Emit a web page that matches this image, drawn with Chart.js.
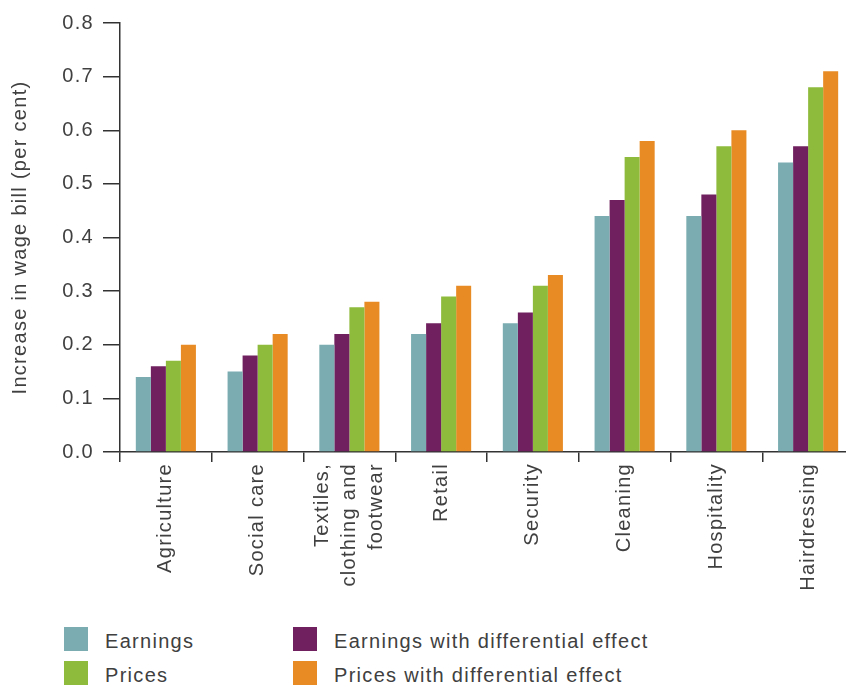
<!DOCTYPE html>
<html>
<head>
<meta charset="utf-8">
<script src="https://cdn.jsdelivr.net/npm/chart.js@4"></script>
<style>
  html, body { margin:0; padding:0; background:#fff; overflow:hidden; }
  body { width:846px; height:691px; position:relative; font-family:"Liberation Sans", Arial, sans-serif; }
  #wrap { position:absolute; left:0; top:0; width:854px; height:615px; }
  .item { position:absolute; height:24px; display:flex; align-items:center; color:#404040; font-size:20px; letter-spacing:1.3px; white-space:nowrap; }
  .item .box { width:24px; height:24px; margin-right:17px; }
  .item .txt { position:relative; top:2px; }
</style>
</head>
<body>
<div id="wrap"><canvas id="chart"></canvas></div>
<div id="legend"></div>
<script>
const categories = ["Agriculture", "Social care", ["Textiles,", "clothing and", "footwear"], "Retail", "Security", "Cleaning", "Hospitality", "Hairdressing"];
const seriesNames = ["Earnings", "Earnings with differential effect", "Prices", "Prices with differential effect"];
const seriesColors = ["#7aacb1", "#71205f", "#8ebb3b", "#e88b25"];
const earnings    = [0.14, 0.15, 0.20, 0.22, 0.24, 0.44, 0.44, 0.54];
const earningsDiff = [0.16, 0.18, 0.22, 0.24, 0.26, 0.47, 0.48, 0.57];
const prices      = [0.17, 0.20, 0.27, 0.29, 0.31, 0.55, 0.57, 0.68];
const pricesDiff  = [0.20, 0.22, 0.28, 0.31, 0.33, 0.58, 0.60, 0.71];
const yTicks = [0, 0.1, 0.2, 0.3, 0.4, 0.5, 0.6, 0.7, 0.8];

const values = [earnings, earningsDiff, prices, pricesDiff];
const textColor = "#404040";
const font = { family: "'Liberation Sans', Arial, sans-serif", size: 20, lineHeight: 1.35 };

// letter spacing for canvas text (context state is reset on resize)
const spacing = {
  id: "spacing",
  beforeLayout(c){ c.ctx.letterSpacing = "1.3px"; },
  beforeDraw(c){
    c.ctx.letterSpacing = "1.3px";
    // centre multi-line rotated labels on their tick
    const xs = c.scales.x;
    xs.getLabelItems().forEach(it => {
      if (Array.isArray(it.label) && !it._centred) {
        const lh = it.font.lineHeight;
        it.textOffset -= (it.label.length - 1) * lh / 2;
        it._centred = true;
      }
    });
  }
};

new Chart(document.getElementById("chart"), {
  type: "bar",
  data: {
    labels: categories,
    datasets: values.map((v, i) => ({
      label: seriesNames[i],
      data: v,
      backgroundColor: seriesColors[i],
      borderWidth: 0,
      categoryPercentage: 0.655,
      barPercentage: 1.0
    }))
  },
  options: {
    responsive: true,
    maintainAspectRatio: false,
    animation: false,
    layout: { padding: { top: 23, left: 0, right: 0, bottom: 0 } },
    plugins: { legend: { display: false }, tooltip: { enabled: false } },
    scales: {
      x: {
        grid: { drawOnChartArea: false, offset: true, tickLength: 10, color: "#333", lineWidth: 1.5 },
        border: { color: "#333", width: 1.5 },
        ticks: { color: textColor, font: font, minRotation: 90, maxRotation: 90, padding: 1, autoSkip: false },
        afterFit(s){ s.height = 163; }
      },
      y: {
        min: 0, max: 0.8,
        grid: { drawOnChartArea: false, tickLength: 17, color: "#333", lineWidth: 1.5 },
        border: { color: "#333", width: 1.5 },
        ticks: {
          color: textColor, font: font, padding: 9,
          stepSize: 0.1,
          callback: (v) => yTicks.some(t => Math.abs(t - v) < 1e-9) ? Number(v).toFixed(1) : ""
        },
        title: { display: true, text: "Increase in wage bill (per cent)", color: textColor, font: { family: font.family, size: 20 }, padding: { top: 8, bottom: 0 } },
        afterFit(s){ s.width = 120; }
      }
    }
  },
  plugins: [spacing]
});

// legend in two columns: Earnings / Prices left, differential effect right
const legendPos = [[64, 627], [293, 627], [64, 661], [293, 661]];
const legend = document.getElementById("legend");
seriesNames.forEach((name, i) => {
  const d = document.createElement("div");
  d.className = "item";
  d.style.left = legendPos[i][0] + "px";
  d.style.top = legendPos[i][1] + "px";
  d.innerHTML = '<span class="box" style="background:' + seriesColors[i] + '"></span><span class="txt">' + name + '</span>';
  legend.appendChild(d);
});
</script>
</body>
</html>
